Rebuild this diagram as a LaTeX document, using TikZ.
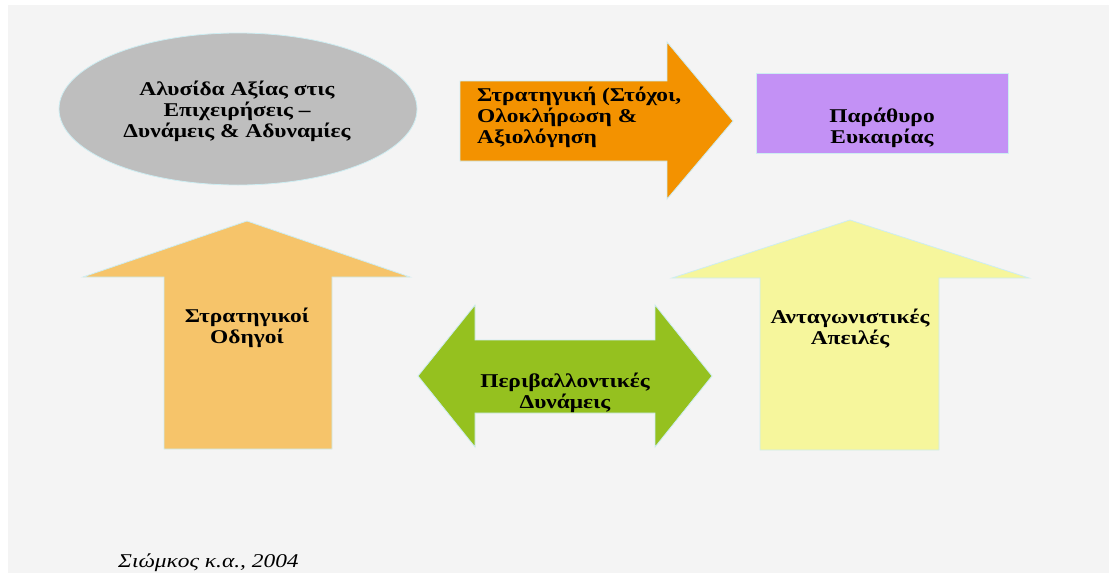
\documentclass[tikz,border=0pt]{standalone}
\usepackage{fontspec}
\setmainfont{Liberation Serif}
\newfontfamily\wideserif[FakeStretch=1.2]{Liberation Serif}
\definecolor{bggrey}{HTML}{F4F4F4}
\definecolor{ellgrey}{HTML}{BEBEBE}
\definecolor{orangeA}{HTML}{F39200}
\definecolor{purpleA}{HTML}{C391F5}
\definecolor{lorange}{HTML}{F6C46A}
\definecolor{greenA}{HTML}{95C11F}
\definecolor{yellowA}{HTML}{F6F69C}
\definecolor{rimcol}{HTML}{CDEDF2}
\begin{document}
\begin{tikzpicture}[x=1pt,y=-1pt,
  lbl/.style={font=\wideserif\bfseries\fontsize{19.5}{21}\selectfont, align=center, text=black, inner sep=0pt, anchor=base},
  shapeedge/.style={draw=rimcol, line width=0.8pt, line join=miter}]
\fill[white] (0,0) rectangle (1109,573);
\fill[bggrey] (8,5) rectangle (1109,573);
\useasboundingbox (0,0) rectangle (1109,573);
% ellipse
\filldraw[shapeedge, fill=ellgrey] (238,109) ellipse [x radius=179pt, y radius=76pt];
\node[lbl] (chain) at (237,137) {Αλυσίδα Αξίας στις\\Επιχειρήσεις –\\Δυνάμεις \& Αδυναμίες};
% orange arrow
\filldraw[shapeedge, fill=orangeA] (460,81) -- (667,81) -- (667,42) -- (733,121) -- (667,199) -- (667,161) -- (460,161) -- cycle;
\node[lbl, align=left, anchor=base west] (strat) at (477,143) {Στρατηγική (Στόχοι,\\Ολοκλήρωση \&\\Αξιολόγηση};
% purple box
\filldraw[shapeedge, fill=purpleA] (756,73) rectangle (1008,153);
\node[lbl] (window) at (882,143) {Παράθυρο\\Ευκαιρίας};
% left up arrow
\filldraw[shapeedge, fill=lorange] (164,449) -- (164,277) -- (83,277) -- (247,221) -- (410,277) -- (332,277) -- (332,449) -- cycle;
\node[lbl] (drivers) at (247,343) {Στρατηγικοί\\Οδηγοί};
% green double arrow
\filldraw[shapeedge, fill=greenA] (418,376) -- (475,305) -- (475,340) -- (655,340) -- (655,305) -- (712,376) -- (655,447) -- (655,413) -- (475,413) -- (475,447) -- cycle;
\node[lbl] (env) at (565,408) {Περιβαλλοντικές\\Δυνάμεις};
% yellow up arrow
\filldraw[shapeedge, fill=yellowA] (760,450) -- (760,278) -- (672,278) -- (850,220) -- (1029,278) -- (939,278) -- (939,450) -- cycle;
\node[lbl] (threats) at (850,344) {Ανταγωνιστικές\\Απειλές};
% source
\node[font=\wideserif\itshape\fontsize{19.5}{22}\selectfont, inner sep=0pt, anchor=base west] (src) at (118,567) {Σιώμκος κ.α., 2004};
\end{tikzpicture}
\end{document}
